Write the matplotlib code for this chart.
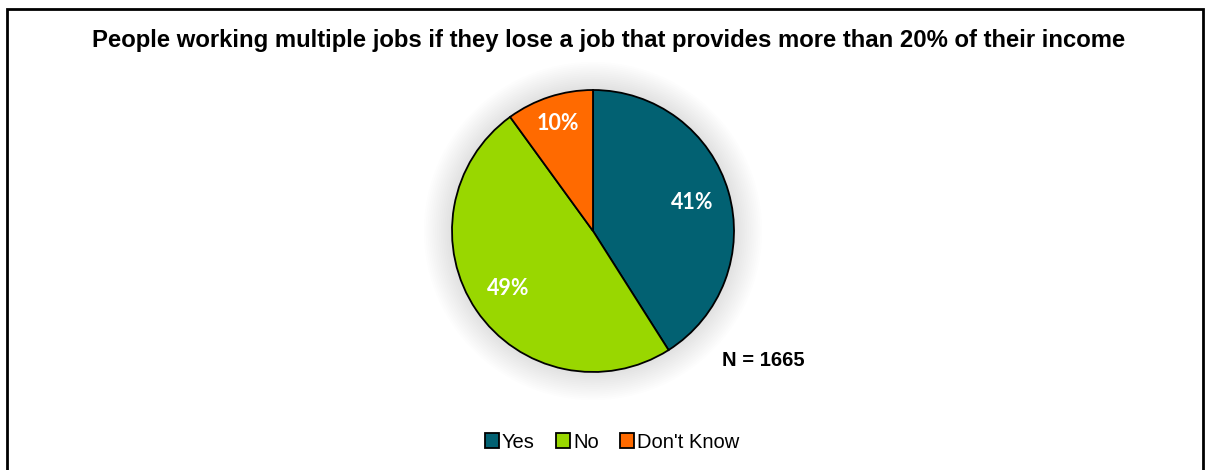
import numpy as np
import matplotlib.pyplot as plt
from matplotlib.patches import Patch, Rectangle, Circle

labels = ['Yes', 'No', "Don't Know"]
shares = [41, 49, 10]
colors = ['#026172', '#99D700', '#FF6A00']
title = 'People working multiple jobs if they lose a job that provides more than 20% of their income'
n_note = 'N = 1665'

fig = plt.figure(figsize=(12.06, 4.70), dpi=100)

# outer frame (bottom edge runs off the image)
fig.patches.append(Rectangle((7 / 1206, -0.05), 1196 / 1206, (470 - 9) / 470 + 0.05,
                             transform=fig.transFigure, fill=False,
                             edgecolor='black', linewidth=2))

R = 141
cx, cy = 593, 231
ax = fig.add_axes([(cx - R) / 1206, (470 - cy - R) / 470, 2 * R / 1206, 2 * R / 470])
ax.set_xlim(-1, 1)
ax.set_ylim(-1, 1)
ax.axis('off')

# soft shadow behind the pie
for r in np.linspace(1.2, 1.0, 16):
    ax.add_patch(Circle((0.0, 0.0), r, color='#000000', alpha=0.008,
                        linewidth=0, clip_on=False, zorder=0))

wedges, texts, autotexts = ax.pie(
    shares, colors=colors, startangle=90, counterclock=False, radius=1,
    autopct='%d%%', pctdistance=0.73,
    wedgeprops=dict(edgecolor='black', linewidth=1.3),
    textprops=dict(color='white', fontsize=15.5, fontweight='bold', family='Lato'))
for w in wedges:
    w.set_zorder(2)
    w.set_clip_on(False)
ax.set_xlim(-1, 1)
ax.set_ylim(-1, 1)

# push the small slice label further out
w = wedges[2]
mid = np.deg2rad((w.theta1 + w.theta2) / 2)
autotexts[2].set_position((0.8 * np.cos(mid), 0.8 * np.sin(mid)))
for t in autotexts:
    t.set_zorder(3)

fig.text(609 / 1206, 1 - 40 / 470, title, ha='center', va='center',
         fontsize=17.2, fontweight='bold', family='Liberation Sans')
fig.text(763 / 1206, 1 - 361 / 470, n_note, ha='center', va='center',
         fontsize=14.5, fontweight='bold', family='Liberation Sans')

handles = [Patch(facecolor=c, edgecolor='black', linewidth=1.3) for c in colors]
fig.legend(handles, labels, loc='center', bbox_to_anchor=(612 / 1206, 1 - 442 / 470),
           ncol=3, frameon=False, handlelength=0.7, handleheight=0.7,
           handletextpad=0.15, columnspacing=1.05,
           prop=dict(family='Liberation Sans', size=14.5))

fig.savefig('out.png', dpi=100)
